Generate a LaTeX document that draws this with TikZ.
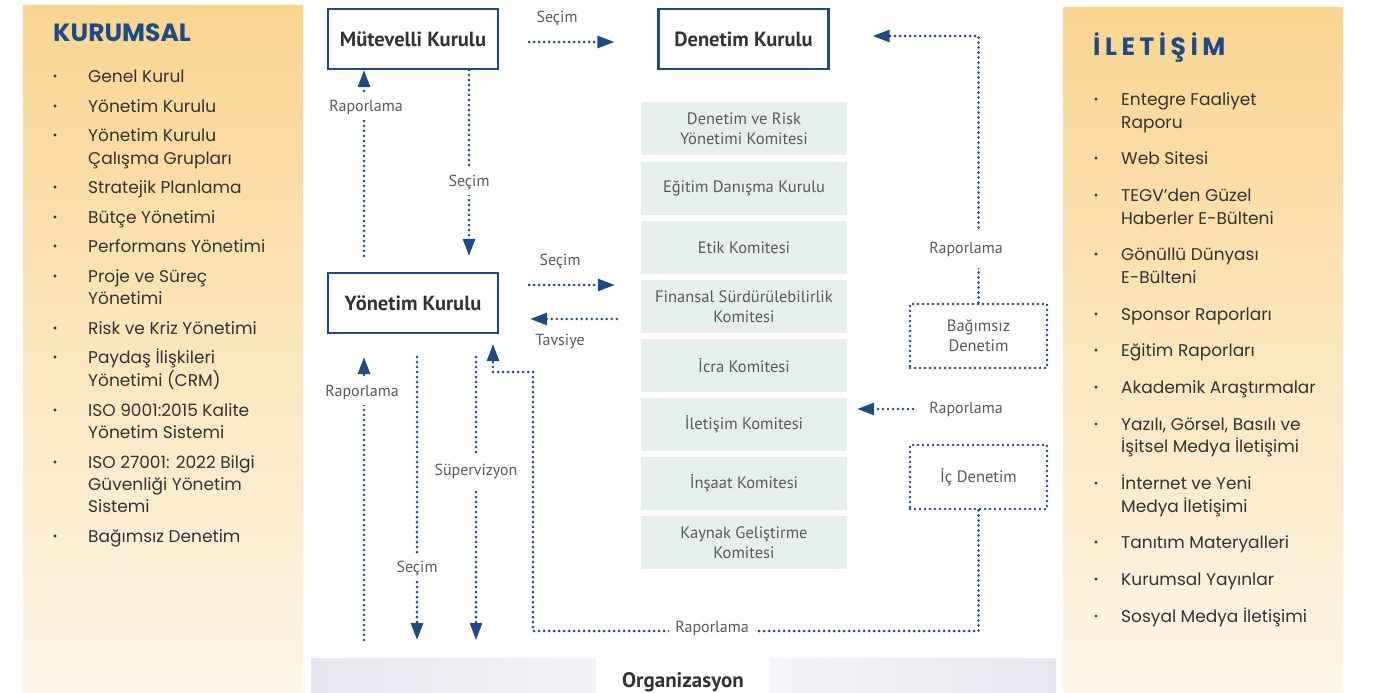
\documentclass[tikz,border=0pt]{standalone}
\usepackage{fontspec}
\setmainfont{Poppins}
\newfontfamily\midfont{PT Sans}
\usetikzlibrary{arrows.meta,calc}
\definecolor{navy}{HTML}{1E4B86}
\definecolor{txt}{HTML}{333333}
\definecolor{lbl}{HTML}{5A5A5A}
\definecolor{mint}{HTML}{E6F0EA}
\definecolor{gtop}{HTML}{F9D590}
\definecolor{gbot}{HTML}{FEF6E8}
\definecolor{lav}{HTML}{E6E6F0}
\tikzset{
  dots/.style={draw=navy, line width=2.8pt, line cap=round, dash pattern=on 0pt off 5pt},
  arr/.style={dots, -{Triangle[length=17pt,width=12pt]}},
  mainbox/.style={draw=navy, line width=2.2pt, minimum width=170pt, minimum height=60pt,
    font=\midfont\bfseries\fontsize{20.5}{24}\selectfont, text=txt},
  kom/.style={fill=mint, minimum width=206pt, minimum height=53pt, align=center,
    font=\midfont\fontsize{16.5}{20}\selectfont, text=lbl, inner sep=2pt},
  audit/.style={dots, minimum width=137pt, minimum height=64pt, align=center,
    font=\midfont\fontsize{16.5}{20}\selectfont, text=lbl},
  lab/.style={font=\midfont\fontsize{16}{19}\selectfont, text=lbl, fill=white, inner sep=6pt},
  item/.style={anchor=base west, font=\fontsize{17}{20}\selectfont, text=txt, inner sep=0pt},
  ttl/.style={anchor=west, font=\bfseries\fontsize{25}{28}\selectfont, text=navy, inner sep=0pt},
}
\begin{document}
\begin{tikzpicture}[x=1pt,y=-1pt]
\useasboundingbox (0,0) rectangle (1373,693);
\fill[white] (0,0) rectangle (1373,693);
% side panels
\shade[top color=gtop, bottom color=gbot] (23,6) rectangle (303,693);
\shade[top color=gtop, bottom color=gbot] (1063,8) rectangle (1343,693);
% bottom bar
\shade[left color=lav, right color=white!55!lav] (311,658) rectangle (596,693);
\fill[white] (596,658) rectangle (770,693);
\shade[left color=white!60!lav, right color=lav] (770,658) rectangle (1056,693);
\node[font=\midfont\bfseries\fontsize{21}{24}\selectfont, text=txt] (org) at (683,682) {Organizasyon};

% left list
\node[ttl] (kt) at (53,33) {KURUMSAL};
\foreach \yy in {76,106,135,187,217,246,276,328,357,410,462,536}
  \fill[txt] (55,\yy) circle (1.6);
\foreach \yy/\tx [count=\i] in {76/Genel Kurul,106/Yönetim Kurulu,135/Yönetim Kurulu,158/Çalışma Grupları,
  187/Stratejik Planlama,217/Bütçe Yönetimi,246/Performans Yönetimi,276/Proje ve Süreç,298/Yönetimi,
  328/Risk ve Kriz Yönetimi,357/Paydaş İlişkileri,380/Yönetimi (CRM),410/ISO 9001:2015 Kalite,
  432/Yönetim Sistemi,462/ISO 27001: 2022 Bilgi,484/Güvenliği Yönetim,506/Sistemi,536/Bağımsız Denetim}
  \node[item] (L\i) at (88,\yy+6) {\tx};

% right list
\node[ttl, font=\bfseries\fontsize{25}{28}\selectfont\addfontfeature{LetterSpace=18}] (it) at (1093,48) {İLETİŞİM};
\foreach \yy in {99,158,195,254,314,350,387,424,483,542,579,616}
  \fill[txt] (1096,\yy) circle (1.6);
\foreach \yy/\tx [count=\i] in {99/Entegre Faaliyet,122/Raporu,158/Web Sitesi,195/TEGV’den Güzel,
  218/Haberler E-Bülteni,254/Gönüllü Dünyası,277/E-Bülteni,314/Sponsor Raporları,350/Eğitim Raporları,
  387/Akademik Araştırmalar,424/{Yazılı, Görsel, Basılı ve},446/İşitsel Medya İletişimi,
  483/İnternet ve Yeni,506/Medya İletişimi,542/Tanıtım Materyalleri,579/Kurumsal Yayınlar,
  616/Sosyal Medya İletişimi}
  \node[item] (R\i) at (1121,\yy+6) {\tx};

% main boxes
\node[mainbox] (mk) at (413,39) {Mütevelli Kurulu};
\node[mainbox] (dk) at (743.5,39) {Denetim Kurulu};
\node[mainbox] (yk) at (413,303) {Yönetim Kurulu};

% committees
\node[kom] (k1) at (744,128.5) {Denetim ve Risk\\Yönetimi Komitesi};
\node[kom] (k2) at (744,188.5) {Eğitim Danışma Kurulu};
\node[kom] (k3) at (744,247.5) {Etik Komitesi};
\node[kom] (k4) at (744,306.5) {Finansal Sürdürülebilirlik\\Komitesi};
\node[kom] (k5) at (744,365.5) {İcra Komitesi};
\node[kom] (k6) at (744,424.5) {İletişim Komitesi};
\node[kom] (k7) at (744,483.5) {İnşaat Komitesi};
\node[kom] (k8) at (744,542.5) {Kaynak Geliştirme\\Komitesi};

% audit boxes
\node[audit] (bd) at (978.5,336) {Bağımsız\\Denetim};
\node[audit] (id) at (978.5,477) {İç Denetim};

% coordinates
\coordinate (cx1) at (364,0);
\coordinate (cx2) at (469,0);
\coordinate (bot1) at (364,640);
\coordinate (bot2) at (417,640);
\coordinate (bot3) at (476,640);
\coordinate (lp1) at (533,631);
\coordinate (lp2) at (493,372);
\coordinate (sa) at ([yshift=18pt]yk.east);
\coordinate (ta) at ([yshift=-16pt]yk.east);

% connectors
\draw[arr, shorten <=30pt, shorten >=43pt] ([yshift=-3pt]mk.east) -- ([yshift=-3pt]dk.west);
\draw[arr, shorten <=16pt] (yk.north -| cx1) -- (mk.south -| cx1);
\draw[arr, shorten >=16pt] (mk.south -| cx2) -- (yk.north -| cx2);
\draw[arr, shorten <=30pt, shorten >=26pt] (sa) -- (sa -| k4.west);
\draw[arr, shorten <=24pt, shorten >=31pt] (ta -| k4.west) -- (ta);
\draw[arr, shorten >=23pt] (bot1) -- (bot1 |- yk.south);
\draw[arr, shorten <=23pt] (bot2 |- yk.south) -- (bot2);
\draw[arr, shorten <=23pt] (bot3 |- yk.south) -- (bot3);
\draw[arr] (id.south) |- (lp1) |- (lp2) -- ([yshift=-10pt]yk.south -| lp2);
\draw[arr, shorten >=43pt] (bd.north) |- ([yshift=3pt]dk.east);

% labels
\node[lab, fill=none] (l1) at (557,18) {Seçim};
\node[lab] (l2) at (366,107) {Raporlama};
\node[lab] (l3) at (469,182) {Seçim};
\node[lab, fill=none] (l4) at (560,261) {Seçim};
\node[lab, fill=none] (l5) at (560,341) {Tavsiye};
\node[lab] (l6) at (362,392) {Raporlama};
\node[lab] (l7) at (417,568) {Seçim};
\node[lab, inner ysep=10pt] (l8) at (476,471) {Süpervizyon};
\node[lab] (l9) at (712,628) {Raporlama};
\node[lab, inner ysep=12pt] (l10) at (966,249) {Raporlama};
\node[lab, fill=none] (l11) at (966,409) {Raporlama};
\draw[arr, shorten <=10pt, shorten >=10pt] (l11.west) -- (l11.west -| k6.east);
\end{tikzpicture}
\end{document}
